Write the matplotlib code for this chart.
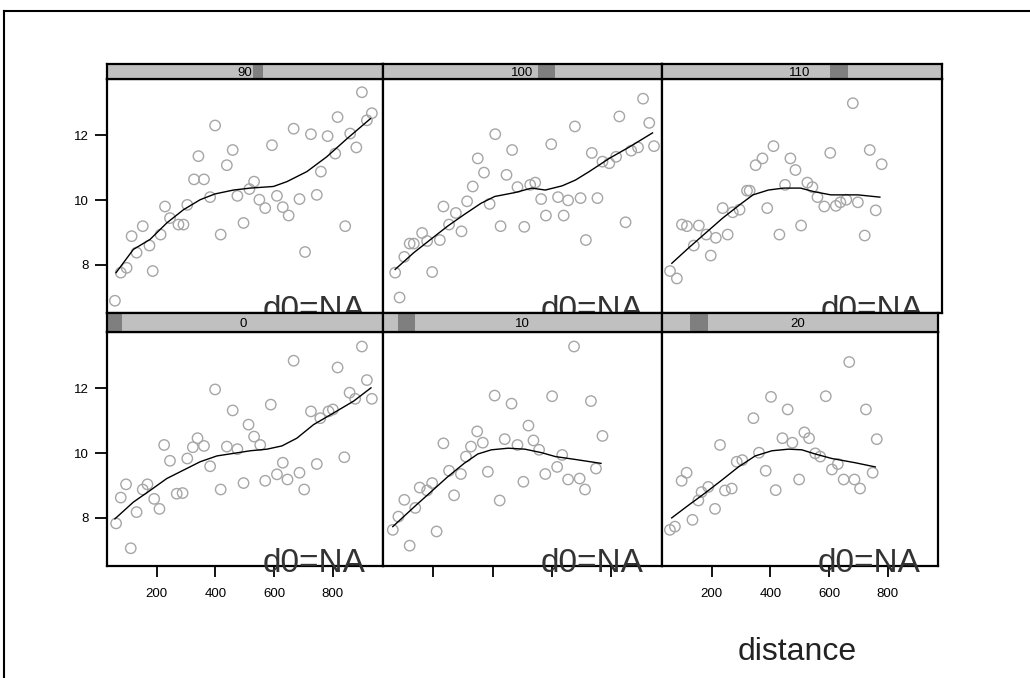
import matplotlib
matplotlib.use("Agg")
import matplotlib.pyplot as plt
from matplotlib.lines import Line2D

W, H = 1030, 678

# ---- data: (x, y) points per panel, smooth curve per panel ----
x_90 = [57, 77, 97, 114, 131, 152, 175, 186, 213, 228, 245, 274, 291, 304, 327, 342, 361, 382, 399, 418,
        439, 459, 475, 496, 516, 532, 550, 570, 593, 610, 630, 650, 667, 687, 706, 726, 746, 760, 783, 809,
        817, 843, 860, 881, 900, 917, 934]
y_90 = [6.88, 7.75, 7.90, 8.88, 8.37, 9.19, 8.59, 7.80, 8.93, 9.80, 9.44, 9.24, 9.24, 9.85, 10.64, 11.36,
        10.64, 10.09, 12.31, 8.93, 11.08, 11.55, 10.13, 9.29, 10.34, 10.57, 10.01, 9.75, 11.70, 10.13, 9.78,
        9.52, 12.21, 10.03, 8.39, 12.04, 10.16, 10.88, 11.98, 11.44, 12.57, 9.19, 12.06, 11.63, 13.34, 12.47,
        12.69]
sx_90 = [61, 120, 177, 234, 291, 348, 399, 462, 519, 598, 644, 712, 780, 849, 929]
sy_90 = [7.75, 8.47, 8.78, 9.29, 9.70, 10.01, 10.19, 10.31, 10.37, 10.42, 10.57, 10.88, 11.34, 11.90, 12.52]

x_100 = [71, 86, 102, 120, 134, 162, 179, 196, 222, 234, 253, 276, 295, 314, 333, 350, 371, 390, 409, 427,
         447, 466, 484, 507, 527, 544, 564, 580, 598, 621, 640, 655, 678, 697, 715, 735, 754, 771, 794, 817,
         828, 849, 868, 891, 908, 929, 945]
y_100 = [7.75, 6.98, 8.24, 8.65, 8.65, 8.98, 8.73, 7.77, 8.76, 9.80, 9.24, 9.60, 9.03, 9.96, 10.42, 11.29,
         10.85, 9.88, 12.04, 9.19, 10.78, 11.55, 10.40, 9.17, 10.47, 10.54, 10.03, 9.52, 11.73, 10.09, 9.52,
         9.99, 12.28, 10.06, 8.76, 11.46, 10.06, 11.19, 11.14, 11.34, 12.59, 9.31, 11.53, 11.63, 13.14, 12.39,
         11.67]
sx_100 = [71, 134, 191, 248, 304, 361, 407, 475, 532, 578, 635, 680, 726, 794, 863, 940]
sy_100 = [7.85, 8.37, 8.78, 9.19, 9.55, 9.90, 10.11, 10.23, 10.37, 10.31, 10.44, 10.62, 10.88, 11.29, 11.65, 12.08]

x_110 = [57, 80, 97, 114, 137, 154, 179, 194, 211, 234, 251, 268, 291, 316, 325, 345, 368, 384, 405, 425,
         444, 462, 479, 498, 519, 536, 553, 576, 596, 615, 630, 650, 672, 689, 712, 729, 749, 769]
y_110 = [7.80, 7.57, 9.24, 9.19, 8.59, 9.21, 8.93, 8.28, 8.83, 9.75, 8.93, 9.62, 9.70, 10.29, 10.29, 11.08,
         11.29, 9.75, 11.67, 8.93, 10.47, 11.29, 10.93, 9.21, 10.54, 10.40, 10.09, 9.80, 11.46, 9.82, 9.93,
         10.01, 13.00, 9.93, 8.90, 11.55, 9.68, 11.11]
sx_110 = [63, 120, 177, 234, 291, 336, 388, 439, 496, 541, 598, 689, 763]
sy_110 = [8.04, 8.52, 8.98, 9.44, 9.85, 10.16, 10.31, 10.37, 10.37, 10.26, 10.16, 10.16, 10.09]

x_0 = [61, 77, 95, 111, 131, 152, 168, 191, 209, 225, 245, 268, 288, 304, 323, 339, 361, 382, 399, 418,
       439, 459, 475, 496, 513, 532, 553, 570, 589, 610, 630, 646, 667, 687, 703, 726, 746, 758, 786, 801,
       817, 840, 858, 877, 900, 917, 934]
y_0 = [7.82, 8.62, 9.03, 7.05, 8.17, 8.87, 9.03, 8.58, 8.27, 10.25, 9.76, 8.74, 8.76, 9.83, 10.18, 10.46,
       10.22, 9.59, 11.97, 8.87, 10.20, 11.32, 10.12, 9.07, 10.88, 10.51, 10.25, 9.14, 11.50, 9.34, 9.70,
       9.18, 12.86, 9.39, 8.87, 11.29, 9.66, 11.08, 11.29, 11.35, 12.65, 9.87, 11.87, 11.68, 13.30, 12.26,
       11.68]
sx_0 = [57, 120, 177, 234, 291, 348, 405, 462, 519, 576, 627, 678, 735, 803, 872, 931]
sy_0 = [7.96, 8.48, 8.84, 9.21, 9.47, 9.73, 9.91, 9.99, 10.07, 10.12, 10.22, 10.46, 10.88, 11.24, 11.61, 12.02]

x_10 = [63, 82, 102, 120, 139, 154, 179, 196, 211, 234, 253, 270, 293, 310, 327, 348, 367, 384, 407, 424,
        441, 464, 484, 504, 521, 538, 557, 578, 601, 618, 635, 655, 675, 694, 712, 732, 749, 771]
y_10 = [7.62, 8.03, 8.55, 7.13, 8.30, 8.93, 8.84, 9.07, 7.57, 10.30, 9.45, 8.69, 9.35, 9.89, 10.20, 10.67,
        10.32, 9.42, 11.78, 8.53, 10.43, 11.53, 10.25, 9.11, 10.85, 10.39, 10.10, 9.35, 11.76, 9.57, 9.94,
        9.18, 13.30, 9.21, 8.87, 11.61, 9.52, 10.53]
sx_10 = [63, 134, 191, 248, 304, 350, 396, 453, 509, 566, 612, 680, 766]
sy_10 = [7.72, 8.32, 8.79, 9.26, 9.68, 9.97, 10.10, 10.15, 10.12, 10.01, 9.89, 9.80, 9.68]

x_20 = [57, 74, 97, 114, 134, 154, 165, 188, 211, 228, 245, 268, 285, 304, 342, 361, 384, 402, 418, 441,
        459, 475, 498, 516, 532, 553, 570, 589, 610, 630, 650, 669, 687, 706, 726, 749, 763]
y_20 = [7.62, 7.72, 9.14, 9.39, 7.93, 8.53, 8.79, 8.95, 8.27, 10.25, 8.84, 8.90, 9.73, 9.78, 11.08, 10.01,
        9.45, 11.74, 8.85, 10.46, 11.35, 10.32, 9.18, 10.64, 10.46, 9.99, 9.89, 11.76, 9.49, 9.66, 9.18,
        12.82, 9.18, 8.90, 11.35, 9.39, 10.43]
sx_20 = [63, 120, 177, 234, 291, 348, 405, 462, 507, 553, 610, 689, 758]
sy_20 = [7.99, 8.38, 8.76, 9.16, 9.57, 9.91, 10.07, 10.12, 10.10, 9.97, 9.83, 9.70, 9.57]

strip_labels = ["90", "100", "110", "0", "10", "20"]
y_ticks = [8, 10, 12]
x_ticks = [200, 400, 600, 800]
x_tick_labels = ["200", "400", "600", "800"]
panel_text = "d0=NA"
x_label = "distance"

panels = [(x_90, y_90, sx_90, sy_90), (x_100, y_100, sx_100, sy_100), (x_110, y_110, sx_110, sy_110),
          (x_0, y_0, sx_0, sy_0), (x_10, y_10, sx_10, sy_10), (x_20, y_20, sx_20, sy_20)]

# ---- layout (pixels) ----
cols = [(107, 383), (383, 662), (662, 942)]
cols_bottom = [(107, 383), (383, 662), (662, 938)]
rows = [(79, 313), (332, 566)]
strips = [(64, 79), (313, 332)]
label_x = [245, 522, 800, 243, 522, 798]
dark_seg = [(253, 263), (538, 555), (830, 848), (107, 122), (398, 415), (690, 708)]

XLIM = (30, 972)
YLIM = (6.5, 13.75)
FONT = "Liberation Sans"


def rect(x0, x1, y0, y1):
    return [x0 / W, 1 - y1 / H, (x1 - x0) / W, (y1 - y0) / H]


fig = plt.figure(figsize=(W / 100, H / 100), dpi=100)
fig.patch.set_facecolor("white")

# outer frame
fig.add_artist(Line2D([4 / W, 4 / W], [0, 1 - 11 / H], color="black", lw=1.5, transform=fig.transFigure))
fig.add_artist(Line2D([4 / W, 1], [1 - 11 / H, 1 - 11 / H], color="black", lw=1.5, transform=fig.transFigure))

for i, (px, py, sx, sy) in enumerate(panels):
    r = i // 3
    c = i % 3
    x0, x1 = (cols if r == 0 else cols_bottom)[c]
    y0, y1 = rows[r]
    ax = fig.add_axes(rect(x0, x1, y0, y1))
    ax.set_xlim(*XLIM)
    ax.set_ylim(*YLIM)
    ax.scatter(px, py, s=56, facecolors="none", edgecolors="#a6a6a6", linewidths=1.0, zorder=2)
    ax.plot(sx, sy, color="black", lw=1.0, zorder=3)
    for sp in ax.spines.values():
        sp.set_linewidth(1.6)
        sp.set_color("black")
    ax.text(0.935, -0.026, panel_text, transform=ax.transAxes, ha="right", va="baseline",
            fontsize=24, family=FONT, color="#333333", clip_on=False, zorder=5)
    if c == 0:
        ax.set_yticks(y_ticks)
        ax.set_yticklabels([str(t) for t in y_ticks], fontsize=9.5, family=FONT)
        ax.tick_params(axis="y", length=9, width=1.3, pad=4)
    else:
        ax.set_yticks([])
    if r == 1:
        ax.set_xticks(x_ticks)
        if c != 1:
            ax.set_xticklabels(x_tick_labels, fontsize=9.5, family=FONT)
        else:
            ax.set_xticklabels([])
        ax.tick_params(axis="x", length=8, width=1.3, pad=8)
    else:
        ax.set_xticks([])

# strips drawn afterwards so they cover overflowing text
for i in range(6):
    r = i // 3
    c = i % 3
    x0, x1 = (cols if r == 0 else cols_bottom)[c]
    s0, s1 = strips[r]
    sa = fig.add_axes(rect(x0, x1, s0, s1))
    sa.set_xlim(x0, x1)
    sa.set_ylim(0, 1)
    sa.set_facecolor("#c0c0c0")
    d0, d1 = dark_seg[i]
    sa.axvspan(d0, d1, color="#7f7f7f", lw=0)
    sa.text(label_x[i], 0.42, strip_labels[i], ha="center", va="center", fontsize=9.5, family=FONT,
            color="black")
    sa.set_xticks([])
    sa.set_yticks([])
    for sp in sa.spines.values():
        sp.set_linewidth(1.6)
        sp.set_color("black")

fig.text(797 / W, 1 - 652 / H, x_label, ha="center", va="center", fontsize=23, family=FONT, color="#222222")

fig.savefig("out.png", dpi=100, facecolor="white")
